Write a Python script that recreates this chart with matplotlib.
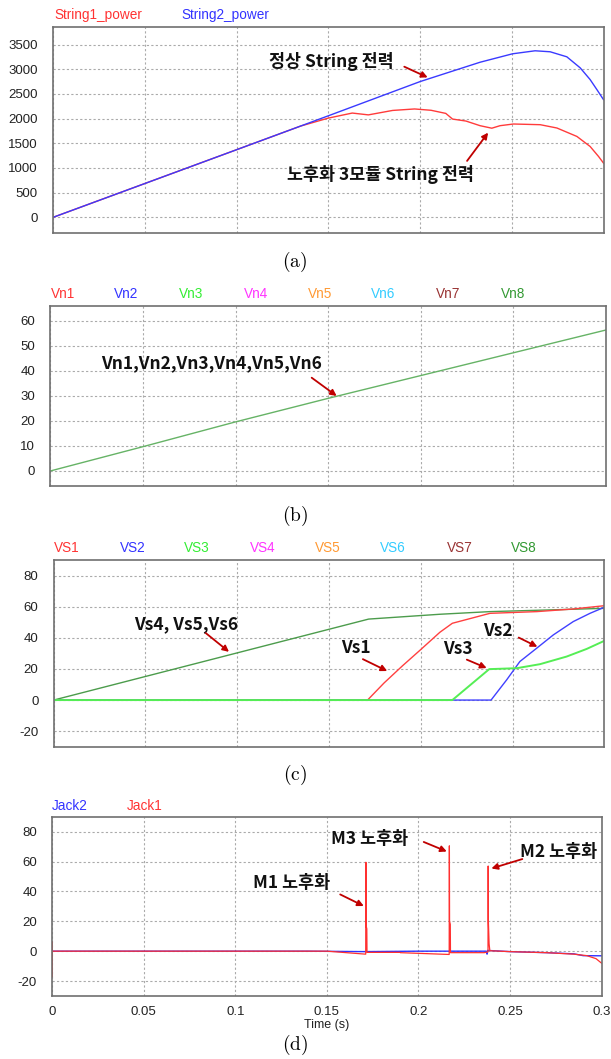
import matplotlib
matplotlib.use("Agg")
import matplotlib.pyplot as plt

plt.rcParams['font.family'] = ['Liberation Sans', 'Noto Sans CJK KR']
plt.rcParams['mathtext.fontset'] = 'cm'
plt.rcParams['axes.unicode_minus'] = False

# ---- data ----
# (a) string power
s2_t = [0, 0.05, 0.1, 0.15, 0.2, 0.215, 0.2327, 0.2504, 0.2627, 0.2709, 0.28, 0.2873, 0.2927, 0.2964, 0.3]
s2_p = [0, 685, 1370, 2057, 2750, 2930, 3142, 3313, 3374, 3354, 3252, 3028, 2791, 2587, 2384]
s1_t = [0, 0.05, 0.1, 0.135, 0.15, 0.163, 0.1718, 0.185, 0.197, 0.206, 0.214, 0.2177, 0.225,
        0.2327, 0.2391, 0.2436, 0.2509, 0.2655, 0.2746, 0.2855, 0.2927, 0.2973, 0.3]
s1_p = [0, 685, 1370, 1850, 2010, 2112, 2075, 2165, 2195, 2168, 2105, 1990, 1950,
        1856, 1805, 1856, 1890, 1876, 1809, 1638, 1435, 1232, 1098]

# (b) node voltages
vn_t = [0, 0.05, 0.1, 0.15, 0.2, 0.25, 0.3]
vn_v = [0, 9.7, 19.6, 29.0, 38.1, 47.2, 56.3]
vn_names = ['Vn1', 'Vn2', 'Vn3', 'Vn4', 'Vn5', 'Vn6', 'Vn7', 'Vn8']

# (c) switch voltages
vs8_t = [0, 0.1716, 0.2104, 0.2377, 0.3]
vs8_v = [0, 52.1, 55.2, 56.9, 59.0]
vs1_t = [0, 0.171, 0.18, 0.19, 0.2, 0.2104, 0.2172, 0.2377, 0.2632, 0.2831, 0.3]
vs1_v = [0, 0, 11, 22, 32.5, 43.6, 49.4, 55.8, 56.9, 58.6, 60.7]
vs3_t = [0, 0.2172, 0.2373, 0.2523, 0.265, 0.2795, 0.2904, 0.3]
vs3_v = [0, 0, 19.9, 20.5, 23.1, 28.0, 32.9, 38.1]
vs2_t = [0, 0.2383, 0.2468, 0.254, 0.2632, 0.2722, 0.2831, 0.2922, 0.3]
vs2_v = [0, 0, 13, 24.8, 33.4, 41.9, 50.5, 55.8, 59.7]
vs_names = ['VS1', 'VS2', 'VS3', 'VS4', 'VS5', 'VS6', 'VS7', 'VS8']

# (d) jack currents
jack1_t = [0, 0, 0, 0.14, 0.15, 0.1712, 0.1713, 0.1714, 0.1718, 0.1719, 0.19, 0.1901,
           0.2168, 0.2169, 0.217, 0.2174, 0.2175, 0.236, 0.238, 0.2381, 0.2382, 0.2386,
           0.239, 0.25, 0.27, 0.285, 0.292, 0.297, 0.3]
jack1_v = [-17, 6, 0, 0, 0, -2, 59.5, 17, 15, -0.8, -0.8, -1,
           -2.2, 70.5, 20, 18, -1, -1, -0.5, 57, 20, 5,
           0.3, -0.3, -1, -2, -3, -5, -8]
jack2_t = [0, 0.14, 0.17, 0.2, 0.237, 0.2375, 0.2378, 0.25, 0.27, 0.285, 0.29, 0.3]
jack2_v = [0, 0, -0.3, 0, 0, -2, 0.5, -0.3, -1, -1.8, -3, -3.1]

x_ticks = [0, 0.05, 0.1, 0.15, 0.2, 0.25, 0.3]
x_labels = ['0', '0.05', '0.1', '0.15', '0.2', '0.25', '0.3']

legend_cols = ['#ff3333', '#3333ff', '#33ee33', '#ff33ff', '#ff9933', '#33ccff', '#993333', '#339933']

W, H = 611, 1059
fig = plt.figure(figsize=(W / 100, H / 100), dpi=100)


def box(l, r, t, b):
    return [l / W, 1 - b / H, (r - l) / W, (b - t) / H]


def style(ax, ylim, yticks, show_x=False):
    ax.set_xlim(0, 0.3)
    ax.set_ylim(*ylim)
    ax.set_yticks(yticks)
    ax.set_xticks(x_ticks)
    ax.set_xticklabels(x_labels if show_x else [])
    ax.grid(True, color='#aaaaaa', linestyle=(0, (2, 2)), linewidth=0.8)
    ax.tick_params(length=0, pad=11, labelsize=9.5, colors='#222222')
    for s in ax.spines.values():
        s.set_color('#707070')
        s.set_linewidth(1.2)


def label(ax, txt, x, y, size=12.5):
    ax.text(x, y, txt, ha='center', va='center', fontsize=size, fontweight='bold',
            family=['Noto Sans CJK KR'], color='#111111')


def arrow(ax, tail, tip):
    ax.annotate('', xy=tip, xytext=tail,
                arrowprops=dict(arrowstyle='-|>', color='#c00000', lw=1.3, mutation_scale=9))


def top_legend(names, cols, lefts, y):
    for n, c, x in zip(names, cols, lefts):
        fig.text(x / W, 1 - y / H, n, color=c, fontsize=9.8, ha='left', va='center')


def panel_tag(txt, y):
    fig.text(295 / W, 1 - y / H, r'$\mathrm{' + txt + '}$', fontsize=14, ha='center', va='center')


# ---- (a) ----
ax = fig.add_axes(box(53.3, 603.5, 27.3, 233.3))
ax.plot(s1_t, s1_p, color='#ff3b3b', lw=1.0)
ax.plot(s2_t, s2_p, color='#3a3aff', lw=1.0)
style(ax, (-325, 3850), [0, 500, 1000, 1500, 2000, 2500, 3000, 3500])
label(ax, '정상 String 전력', 0.1515, 3163)
arrow(ax, (0.19, 3075), (0.2055, 2811))
label(ax, '노후화 3모듈 String 전력', 0.1782, 860)
arrow(ax, (0.2247, 1097), (0.238, 1760))
top_legend(['String1_power', 'String2_power'], ['#ff3333', '#3333ff'], [54.4, 181], 15)
panel_tag('(a)', 262)

# ---- (b) ----
ax = fig.add_axes(box(50.3, 606, 305.7, 486))
ax.plot(vn_t, vn_v, color='#66b366', lw=1.0)
style(ax, (-6, 66), [0, 10, 20, 30, 40, 50, 60])
label(ax, 'Vn1,Vn2,Vn3,Vn4,Vn5,Vn6', 0.087, 43.2)
arrow(ax, (0.1399, 37.9), (0.1558, 29.3))
top_legend(vn_names, legend_cols, [51, 114, 179, 243.6, 307.5, 371.3, 435.6, 500.6], 294)
panel_tag('(b)', 516)

# ---- (c) ----
ax = fig.add_axes(box(53.7, 604.3, 559.7, 746.7))
ax.plot(vs8_t, vs8_v, color='#4c9c4c', lw=1.0)
ax.plot(vs1_t, vs1_v, color='#ff4040', lw=1.0)
ax.plot(vs2_t, vs2_v, color='#4040ff', lw=1.0)
ax.plot(vs3_t, vs3_v, color='#55ee55', lw=1.4)
style(ax, (-30, 90.3), [-20, 0, 20, 40, 60, 80])
label(ax, 'Vs4, Vs5,Vs6', 0.0721, 49.1)
arrow(ax, (0.0817, 44.2), (0.0967, 29.9))
label(ax, 'Vs1', 0.1649, 33.5)
arrow(ax, (0.1671, 27.1), (0.1831, 17.9))
label(ax, 'Vs3', 0.2205, 33.1)
arrow(ax, (0.2237, 26.7), (0.2373, 19.9))
label(ax, 'Vs2', 0.2418, 44.2)
arrow(ax, (0.252, 41.0), (0.2649, 33.5))
top_legend(vs_names, legend_cols, [53.7, 119.5, 184, 249.5, 315.3, 380, 446.5, 511], 548)
panel_tag('(c)', 775)

# ---- (d) ----
ax = fig.add_axes(box(52.3, 601.5, 816.7, 996))
ax.plot(jack2_t, jack2_v, color='#3030ff', lw=1.0)
ax.plot(jack1_t, jack1_v, color='#ff3030', lw=0.9)
style(ax, (-30, 90), [-20, 0, 20, 40, 60, 80], show_x=True)
ax.tick_params(axis='x', pad=7)
ax.set_xlabel('Time (s)', fontsize=9, labelpad=1, color='#222222')
label(ax, 'M1 노후화', 0.1308, 45.5)
arrow(ax, (0.1559, 38.8), (0.1715, 29.4))
label(ax, 'M3 노후화', 0.1731, 74.9)
arrow(ax, (0.2015, 73.8), (0.2169, 66))
label(ax, 'M2 노후화', 0.2763, 66.6)
arrow(ax, (0.2582, 62.2), (0.2384, 54.8))
top_legend(['Jack2', 'Jack1'], ['#3333ff', '#ff3333'], [52, 127.3], 806)
panel_tag('(d)', 1045)

fig.savefig('out.png', dpi=100)
